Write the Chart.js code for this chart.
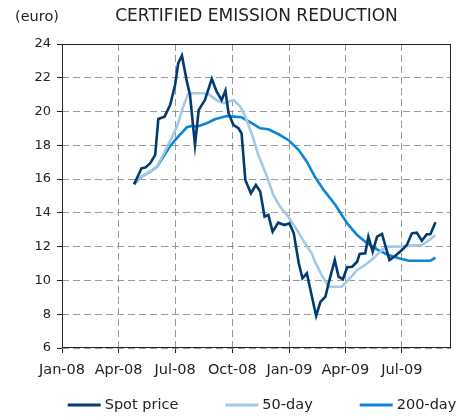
<!DOCTYPE html>
<html>
<head>
<meta charset="utf-8">
<script src="https://cdn.jsdelivr.net/npm/chart.js@4/dist/chart.umd.min.js"></script>
<style>
  html, body { margin: 0; padding: 0; background: #fff; }
  #wrap { width: 474px; height: 417px; }
</style>
</head>
<body>
<div id="wrap"><canvas id="myChart" width="474" height="417"></canvas></div>
<script>
  // x positions are days since 1 Jan 2008
  const tickDays = [0, 91, 182, 274, 366, 456, 547];
  const tickLabels = ['Jan-08', 'Apr-08', 'Jul-08', 'Oct-08', 'Jan-09', 'Apr-09', 'Jul-09'];
  const xMax = 626;

  const seriesNames = ['Spot price', '50-day', '200-day'];
  const seriesColors = ['#003B71', '#A3C9E6', '#0A86D2'];

  const spotDays = [116,128,134,142,150,155,165,174,182,187,193,201,206,214,220,230,241,249,257,263,268,276,284,289,295,304,312,319,326,332,339,348,358,366,373,381,387,394,401,409,416,424,429,439,445,452,459,467,475,479,488,493,500,507,515,527,536,547,555,563,571,579,587,593,601];
  const spotValues = [15.69,16.64,16.68,16.94,17.43,19.56,19.70,20.39,21.57,22.86,23.31,21.77,20.98,18.02,20.09,20.68,21.93,21.18,20.68,21.24,19.90,19.20,19.01,18.71,15.95,15.16,15.65,15.26,13.78,13.88,12.89,13.42,13.28,13.38,12.79,11.02,10.13,10.42,9.24,7.90,8.74,9.04,9.83,11.21,10.22,10.07,10.78,10.81,11.11,11.57,11.61,12.59,11.70,12.59,12.75,11.21,11.45,11.80,12.10,12.79,12.83,12.35,12.73,12.75,13.44];

  const fiftyDays = [116,128,142,153,168,185,195,203,211,225,236,249,260,276,287,295,306,316,330,340,351,364,378,391,402,407,418,429,450,461,475,488,501,515,523,544,560,579,593,601];
  const fiftyValues = [15.70,16.14,16.44,16.76,17.82,19.10,20.29,21.04,21.08,21.08,21.02,20.68,20.49,20.68,20.29,19.70,18.61,17.43,16.14,15.06,14.37,13.78,12.99,12.20,11.61,11.11,10.32,9.63,9.63,10.03,10.62,10.92,11.31,11.80,12.00,12.00,12.06,12.10,12.44,12.69];

  const twoHundredDays = [116,128,142,153,174,187,201,209,217,233,246,265,276,289,306,319,332,348,364,381,394,407,421,440,459,475,491,509,525,542,558,577,593,601];
  const twoHundredValues = [15.71,16.14,16.44,16.74,17.96,18.51,19.07,19.15,19.10,19.31,19.54,19.74,19.70,19.66,19.30,19.01,18.95,18.67,18.32,17.72,17.03,16.14,15.36,14.47,13.38,12.69,12.20,11.80,11.51,11.31,11.17,11.17,11.17,11.35];

  const FONT = "'DejaVu Sans', Verdana, sans-serif";

  function points(days, values) {
    return days.map((d, i) => ({ x: d, y: values[i] }));
  }

  function lineSet(i, days, values) {
    return {
      label: seriesNames[i],
      data: points(days, values),
      borderColor: seriesColors[i],
      backgroundColor: seriesColors[i],
      borderWidth: 2.6,
      pointRadius: 0,
      tension: 0,
      fill: false
    };
  }

  // frame round the plot, the unit label and the line-style legend
  const extras = {
    id: 'extras',
    afterDraw(chart) {
      const ctx = chart.ctx;
      const a = chart.chartArea;
      ctx.save();
      ctx.strokeStyle = '#222';
      ctx.lineWidth = 1;
      ctx.strokeRect(Math.round(a.left) + 0.5, Math.round(a.top) + 0.5,
        Math.round(a.right - a.left) - 1, Math.round(a.bottom - a.top) - 1);

      ctx.fillStyle = '#222';
      ctx.textBaseline = 'middle';
      ctx.textAlign = 'left';
      ctx.font = '14.5px ' + FONT;
      ctx.fillText('(euro)', 15, 17);

      // legend
      const lineLen = 33, gap = 4, between = 47, y = 405;
      const widths = seriesNames.map(n => lineLen + gap + ctx.measureText(n).width);
      const total = widths.reduce((s, w) => s + w, 0) + between * (widths.length - 1);
      let x = 262 - total / 2;
      seriesNames.forEach((n, i) => {
        ctx.strokeStyle = seriesColors[i];
        ctx.lineWidth = 3;
        ctx.beginPath();
        ctx.moveTo(x, y);
        ctx.lineTo(x + lineLen, y);
        ctx.stroke();
        ctx.fillText(n, x + lineLen + gap, y);
        x += widths[i] + between;
      });
      ctx.restore();
    }
  };

  const config = {
    type: 'line',
    data: {
      datasets: [
        lineSet(0, spotDays, spotValues),
        lineSet(1, fiftyDays, fiftyValues),
        lineSet(2, twoHundredDays, twoHundredValues)
      ]
    },
    options: {
      animation: false,
      responsive: false,
      layout: { padding: { left: 0, right: 23, top: 0, bottom: 0 } },
      plugins: {
        legend: { display: false },
        tooltip: { enabled: false },
        title: {
          display: true,
          fullSize: false,
          text: 'CERTIFIED EMISSION REDUCTION',
          color: '#222',
          font: { family: FONT, size: 17, weight: 'normal' },
          padding: { top: 6, bottom: 17.6 }
        }
      },
      scales: {
        x: {
          type: 'linear',
          min: 0,
          max: xMax,
          afterBuildTicks(scale) {
            scale.ticks = tickDays.map(v => ({ value: v }));
          },
          afterFit(scale) {
            scale.height = 69;
          },
          ticks: {
            autoSkip: false,
            maxRotation: 0,
            padding: 9,
            color: '#222',
            font: { family: FONT, size: 14.5 },
            callback: (v, i) => tickLabels[i]
          },
          grid: {
            color: '#9a9a9a',
            lineWidth: 1,
            tickColor: '#222',
            tickLength: 5
          },
          border: { display: false, dash: [7, 4] }
        },
        y: {
          min: 6,
          max: 24,
          afterFit(scale) {
            scale.width = 62;
          },
          ticks: {
            stepSize: 2,
            padding: 6,
            color: '#222',
            font: { family: FONT, size: 13 }
          },
          grid: {
            color: '#9a9a9a',
            lineWidth: 1,
            tickColor: '#222',
            tickLength: 5
          },
          border: { display: false, dash: [7, 4] }
        }
      }
    },
    plugins: [extras]
  };

  const myChart = new Chart(document.getElementById('myChart'), config);
</script>
</body>
</html>
